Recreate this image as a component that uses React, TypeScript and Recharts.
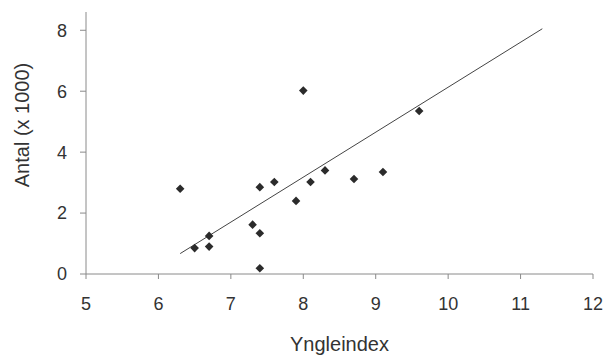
import React from "react";
import {
  ScatterChart,
  Scatter,
  XAxis,
  YAxis,
  ReferenceLine,
  Label,
} from "recharts";

// Yngleindex vs antal (x 1000)
const xValues = [6.3, 6.5, 6.7, 6.7, 7.3, 7.4, 7.4, 7.4, 7.6, 7.9, 8.0, 8.1, 8.3, 8.7, 9.1, 9.6];
const yValues = [2.8, 0.85, 1.25, 0.9, 1.62, 2.85, 1.34, 0.19, 3.02, 2.4, 6.02, 3.02, 3.4, 3.12, 3.35, 5.35];

const xTicks = [5, 6, 7, 8, 9, 10, 11, 12];
const yTicks = [0, 2, 4, 6, 8];

// regression line end points
const fitX = [6.3, 11.3];
const fitY = [0.67, 8.05];

const points = xValues.map((x, i) => ({ x, y: yValues[i] }));

const FONT = "'Liberation Sans', Arial, sans-serif";
const INK = "#2b2b2b";
const AXIS = "#8a8a8a";

const Diamond = (props: any) => {
  const { cx, cy } = props;
  const r = 4.3;
  return (
    <polygon
      points={`${cx},${cy - r} ${cx + r},${cy} ${cx},${cy + r} ${cx - r},${cy}`}
      fill={INK}
    />
  );
};

const YTitle = (props: any) => {
  const { viewBox } = props;
  const cx = 22;
  const cy = viewBox.y + viewBox.height / 2 - 18;
  return (
    <text
      x={cx}
      y={cy}
      transform={`rotate(-90, ${cx}, ${cy})`}
      textAnchor="middle"
      dominantBaseline="central"
      fontFamily={FONT}
      fontSize={20}
      fill="#333"
    >
      Antal (x 1000)
    </text>
  );
};

export default function App() {
  return (
    <div style={{ position: "absolute", left: 0, top: 0, background: "#fff" }}>
      <ScatterChart
        width={605}
        height={355}
        margin={{ top: 12, right: 12, bottom: 0, left: 0 }}
      >
        <XAxis
          type="number"
          dataKey="x"
          domain={[5, 12]}
          ticks={xTicks}
          height={81}
          stroke={AXIS}
          tickSize={5}
          tickMargin={18}
          tick={{ fill: "#333", fontSize: 18, fontFamily: FONT }}
        >
          <Label
            value="Yngleindex"
            position="insideBottom"
            offset={4}
            style={{ fill: "#333", fontSize: 20, fontFamily: FONT }}
          />
        </XAxis>
        <YAxis
          type="number"
          dataKey="y"
          domain={[0, 8.6]}
          ticks={yTicks}
          width={86}
          stroke={AXIS}
          tickSize={6}
          tickMargin={13}
          tick={{ fill: "#333", fontSize: 18, fontFamily: FONT }}
        >
          <Label content={<YTitle />} />
        </YAxis>
        <ReferenceLine
          segment={[
            { x: fitX[0], y: fitY[0] },
            { x: fitX[1], y: fitY[1] },
          ]}
          stroke="#444"
          strokeWidth={1}
          ifOverflow="visible"
        />
        <Scatter data={points} shape={<Diamond />} isAnimationActive={false} />
      </ScatterChart>
    </div>
  );
}
